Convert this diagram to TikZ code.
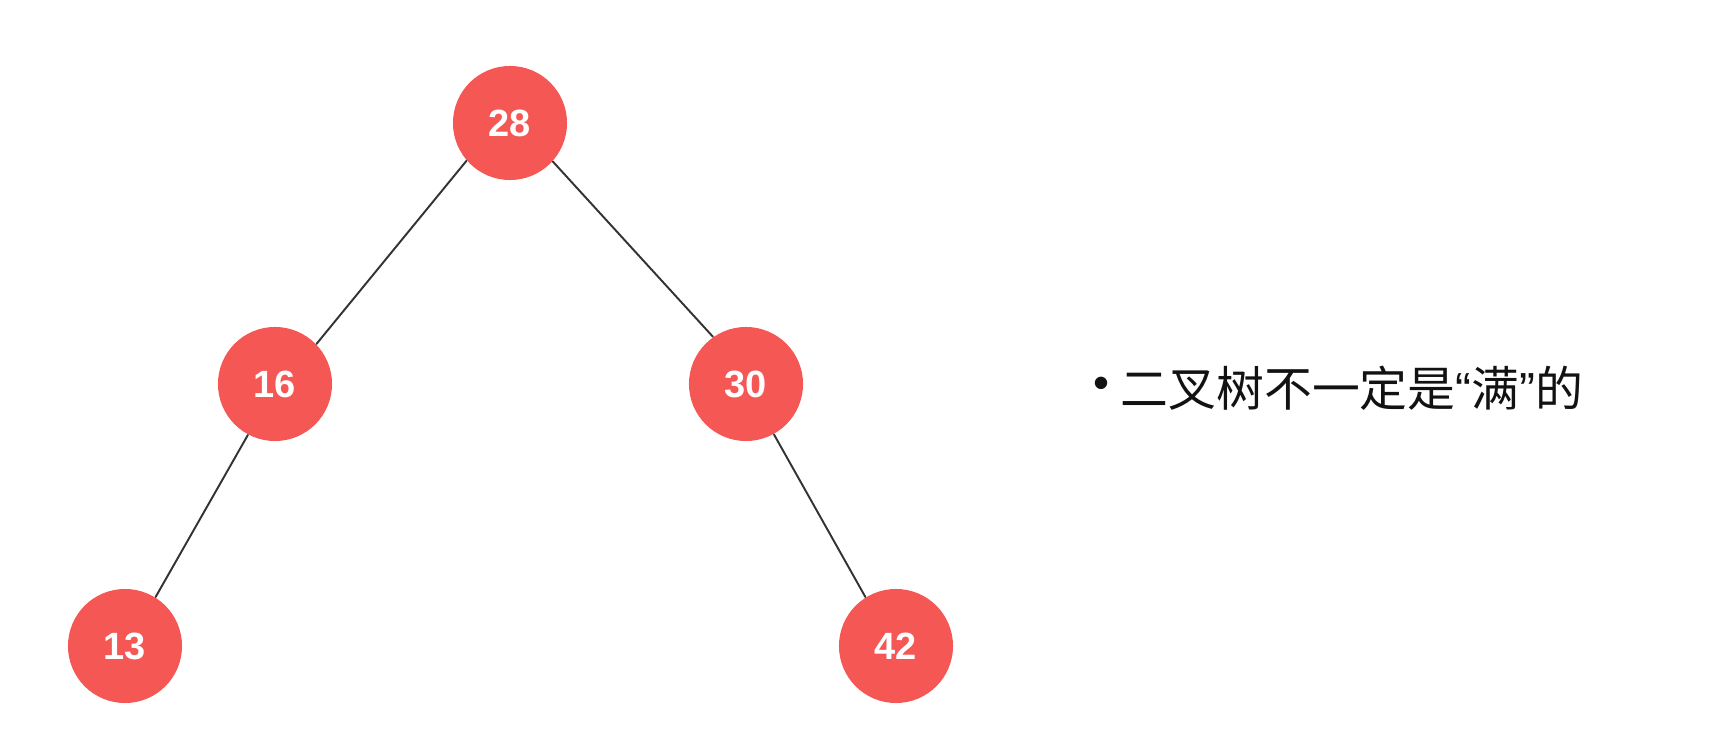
\documentclass[tikz,border=0pt]{standalone}
\usepackage{fontspec}
\setsansfont{Liberation Sans}
\newfontfamily\cjk{Noto Sans CJK SC}
\usepackage{tikz}
\usetikzlibrary{calc}

\begin{document}
\begin{tikzpicture}[line cap=round,line join=round,x=0.01cm,y=-0.01cm]
\definecolor{rqrqrq}{rgb}{0.9607843137254902,0.3411764705882353,0.3294117647058824}
\definecolor{dqdqdq}{rgb}{0.2,0.2,0.2}
\definecolor{bqbqbq}{rgb}{0.07,0.07,0.07}
\tikzset{treenode/.style={circle,fill=rqrqrq,draw=none,minimum size=1.14cm,inner sep=0pt,text=white,font=\sffamily\bfseries\fontsize{10.8}{13}\selectfont},
  treeedge/.style={line width=0.55pt,color=dqdqdq}}
\useasboundingbox (0,0) rectangle (1726,746);
\node [treenode] (n28) at (510,123) {28};
\node [treenode] (n16) at (275,384) {16};
\node [treenode] (n30) at (746,384) {30};
\node [treenode] (n13) at (125,646) {13};
\node [treenode] (n42) at (896,646) {42};
\draw [treeedge] (n28.221)-- (n16.44);
\draw [treeedge] (n28.318)-- (n30.125);
\draw [treeedge] (n16.242)-- (n13.58);
\draw [treeedge] (n30.299)-- (n42.122);
\node [text=bqbqbq,inner sep=0pt,font=\sffamily\fontsize{13}{15}\selectfont] (bullet) at (1101,388) {•};
\node [anchor=west,inner sep=0pt,text=bqbqbq,font=\cjk\fontsize{13.6}{16}\selectfont] (note) at (1120,388) {二叉树不一定是{\sffamily“}满{\sffamily”}的};
\end{tikzpicture}
\end{document}
